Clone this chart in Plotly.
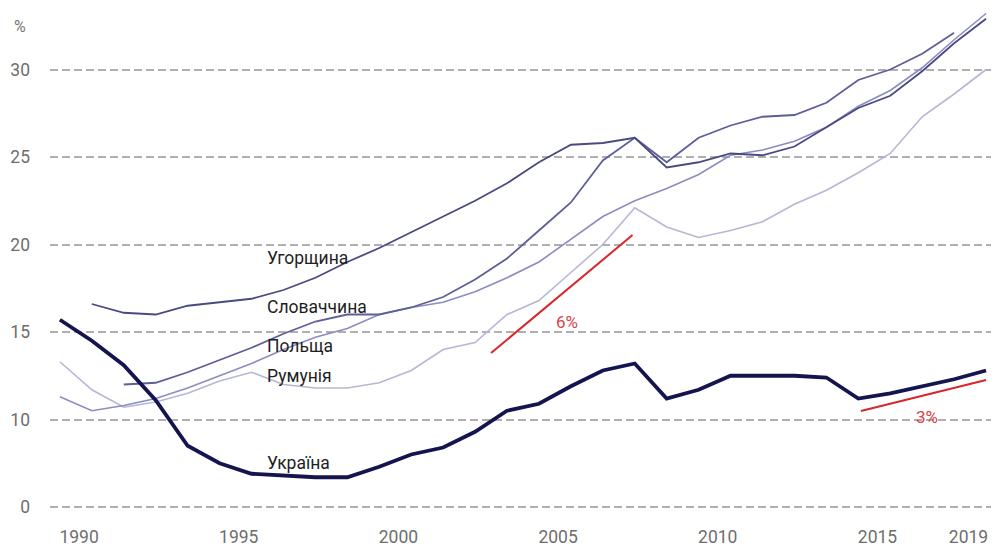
import plotly.graph_objects as go

years = list(range(1990, 2020))

ukraine = [15.7, 14.5, 13.1, 11.1, 8.5, 7.5, 6.9, 6.8, 6.7, 6.7,
           7.3, 8.0, 8.4, 9.3, 10.5, 10.9, 11.9, 12.8, 13.2, 11.2,
           11.7, 12.5, 12.5, 12.5, 12.4, 11.2, 11.5, 11.9, 12.3, 12.8]
hungary = [None, 16.6, 16.1, 16.0, 16.5, 16.7, 16.9, 17.4, 18.1, 19.0,
           19.8, 20.7, 21.6, 22.5, 23.5, 24.7, 25.7, 25.8, 26.1, 24.4,
           24.7, 25.2, 25.1, 25.6, 26.7, 27.8, 28.5, 29.9, 31.5, 32.9]
slovakia = [None, None, 12.0, 12.1, 12.7, 13.4, 14.1, 14.9, 15.6, 16.0,
            16.0, 16.4, 17.0, 18.0, 19.2, 20.8, 22.4, 24.8, 26.1, 24.7,
            26.1, 26.8, 27.3, 27.4, 28.1, 29.4, 30.0, 30.9, 32.1, None]
poland = [11.3, 10.5, 10.8, 11.2, 11.8, 12.5, 13.2, 14.0, 14.7, 15.2,
          16.0, 16.4, 16.7, 17.3, 18.1, 19.0, 20.3, 21.6, 22.5, 23.2,
          24.0, 25.1, 25.4, 25.9, 26.7, 27.9, 28.8, 30.1, 31.7, 33.2]
romania = [13.3, 11.7, 10.7, 11.0, 11.5, 12.2, 12.7, 12.0, 11.8, 11.8,
           12.1, 12.8, 14.0, 14.4, 16.0, 16.8, 18.4, 20.0, 22.1, 21.0,
           20.4, 20.8, 21.3, 22.3, 23.1, 24.1, 25.2, 27.3, 28.6, 30.0]

trend6_x = [2003.5, 2007.93]
trend6_y = [13.8, 20.54]
trend3_x = [2015.08, 2019.0]
trend3_y = [10.49, 12.26]

y_tick_vals = [5, 10, 15, 20, 25, 30]
y_tick_text = ["0", "10", "15", "20", "25", "30"]
x_tick_years = [1990, 1995, 2000, 2005, 2010, 2015, 2019]

series = [
    ("Румунія", romania, "#b6b6d6", 1.6),
    ("Польща", poland, "#8c8cc0", 1.6),
    ("Словаччина", slovakia, "#5e5e98", 1.8),
    ("Угорщина", hungary, "#4a4a82", 1.8),
    ("Україна", ukraine, "#14144f", 3.8),
]

fig = go.Figure()
for name, vals, color, w in series:
    fig.add_trace(go.Scatter(x=years, y=vals, mode="lines", name=name,
                             line=dict(color=color, width=w), connectgaps=False))

fig.add_trace(go.Scatter(x=trend6_x, y=trend6_y, mode="lines",
                         line=dict(color="#d8262c", width=2)))
fig.add_trace(go.Scatter(x=trend3_x, y=trend3_y, mode="lines",
                         line=dict(color="#d8262c", width=2)))

label_font = dict(family="Roboto", size=17.5, color="#1e1e1e")
labels = [
    ("Угорщина", 1996.42, 19.23),
    ("Словаччина", 1996.42, 16.43),
    ("Польща", 1996.42, 14.2),
    ("Румунія", 1996.42, 12.49),
    ("Україна", 1996.42, 7.51),
]
for text, x, y in labels:
    fig.add_annotation(x=x, y=y, text=text, showarrow=False, xanchor="left",
                       yanchor="middle", font=label_font)

red_font = dict(family="Roboto", size=17, color="#d9434a")
fig.add_annotation(x=2005.88, y=15.57, text="6%", showarrow=False, font=red_font)
fig.add_annotation(x=2017.15, y=10.14, text="3%", showarrow=False, font=red_font)
fig.add_annotation(xref="paper", yref="paper", x=-0.0317, y=0.967, text="%",
                   showarrow=False, xanchor="center", yanchor="middle",
                   font=dict(family="Roboto", size=16, color="#777777"))

x_tick_vals = [y + 0.6 for y in x_tick_years[:-1]] + [x_tick_years[-1] - 0.55]

tick_font = dict(family="Roboto", size=17.5, color="#6e6e6e")
fig.update_layout(
    width=991, height=541,
    margin=dict(l=42, r=4, t=2, b=25),
    plot_bgcolor="white", paper_bgcolor="white",
    showlegend=False,
    xaxis=dict(range=[1989.69, 2019.28], tickvals=x_tick_vals,
               ticktext=[str(y) for y in x_tick_years], showgrid=False,
               zeroline=False, showline=False, ticks="",
               ticklabeloverflow="allow", tickfont=tick_font),
    yaxis=dict(range=[4.029, 33.4], tickvals=y_tick_vals, ticktext=y_tick_text,
               showgrid=True, gridcolor="#b0b0b0", griddash="8px,4px", gridwidth=1.5,
               zeroline=False, showline=False, ticks="", ticklabelstandoff=19,
               tickfont=tick_font),
)
fig.write_html("out.html")
